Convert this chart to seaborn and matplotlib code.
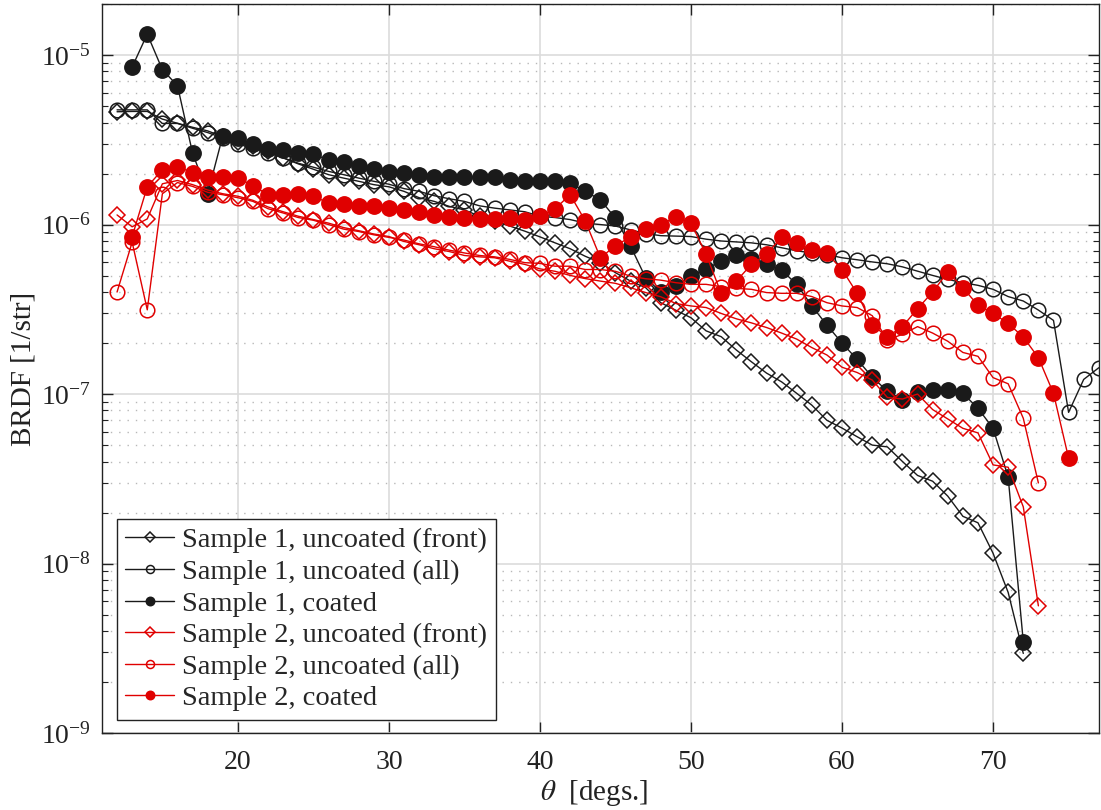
import numpy as np
import pandas as pd
import seaborn as sns
import matplotlib
matplotlib.use("Agg")
from matplotlib import pyplot as plt
from matplotlib.ticker import FixedLocator, LogLocator, NullFormatter

# angles [deg] for every curve
theta_s1_front = list(range(12, 73))
theta_s1_all = list(range(12, 78))
theta_s1_coat = list(range(13, 73))
theta_s2_front = list(range(12, 74))
theta_s2_all = list(range(12, 74))
theta_s2_coat = list(range(13, 76))

# BRDF [1/str]
s1_front = [4.63e-6, 4.65e-6, 4.65e-6, 4.19e-6, 3.96e-6, 3.75e-6, 3.57e-6, 3.30e-6, 3.05e-6, 2.89e-6,
            2.70e-6, 2.47e-6, 2.28e-6, 2.12e-6, 1.97e-6, 1.88e-6, 1.80e-6, 1.72e-6, 1.67e-6, 1.57e-6,
            1.44e-6, 1.37e-6, 1.28e-6, 1.22e-6, 1.12e-6, 1.05e-6, 9.8e-7, 9.14e-7, 8.46e-7, 7.8e-7,
            7.2e-7, 6.5e-7, 5.96e-7, 5.2e-7, 4.64e-7, 4.24e-7, 3.46e-7, 3.12e-7, 2.82e-7, 2.36e-7,
            2.18e-7, 1.82e-7, 1.55e-7, 1.33e-7, 1.18e-7, 1.01e-7, 8.6e-8, 7.0e-8, 6.3e-8, 5.6e-8,
            5.0e-8, 4.88e-8, 4.0e-8, 3.31e-8, 3.06e-8, 2.5e-8, 1.9e-8, 1.74e-8, 1.15e-8, 6.75e-9,
            2.95e-9]
s1_all = [4.75e-6, 4.75e-6, 4.75e-6, 3.95e-6, 3.95e-6, 3.70e-6, 3.49e-6, 3.24e-6, 2.98e-6, 2.83e-6,
          2.65e-6, 2.48e-6, 2.30e-6, 2.18e-6, 2.06e-6, 1.97e-6, 1.88e-6, 1.80e-6, 1.73e-6, 1.63e-6,
          1.57e-6, 1.48e-6, 1.42e-6, 1.37e-6, 1.29e-6, 1.25e-6, 1.22e-6, 1.19e-6, 1.12e-6, 1.10e-6,
          1.07e-6, 1.02e-6, 1.00e-6, 9.8e-7, 9.3e-7, 8.85e-7, 8.6e-7, 8.55e-7, 8.5e-7, 8.2e-7,
          8.0e-7, 7.9e-7, 7.8e-7, 7.6e-7, 7.3e-7, 7.0e-7, 6.8e-7, 6.65e-7, 6.37e-7, 6.2e-7,
          6.02e-7, 5.87e-7, 5.63e-7, 5.31e-7, 5.01e-7, 4.75e-7, 4.54e-7, 4.38e-7, 4.15e-7, 3.76e-7,
          3.54e-7, 3.13e-7, 2.72e-7, 7.8e-8, 1.22e-7, 1.43e-7]
s1_coat = [8.5e-6, 1.33e-5, 8.2e-6, 6.6e-6, 2.64e-6, 1.52e-6, 3.34e-6, 3.24e-6, 2.99e-6, 2.79e-6,
           2.74e-6, 2.66e-6, 2.60e-6, 2.41e-6, 2.33e-6, 2.22e-6, 2.13e-6, 2.04e-6, 2.01e-6, 1.95e-6,
           1.92e-6, 1.91e-6, 1.92e-6, 1.90e-6, 1.90e-6, 1.84e-6, 1.80e-6, 1.80e-6, 1.80e-6, 1.76e-6,
           1.57e-6, 1.40e-6, 1.09e-6, 7.45e-7, 4.85e-7, 4.0e-7, 4.34e-7, 5.0e-7, 5.48e-7, 6.08e-7,
           6.57e-7, 6.23e-7, 5.82e-7, 5.38e-7, 4.44e-7, 3.31e-7, 2.55e-7, 2.0e-7, 1.6e-7, 1.26e-7,
           1.04e-7, 9.25e-8, 1.03e-7, 1.05e-7, 1.06e-7, 1.01e-7, 8.24e-8, 6.28e-8, 3.23e-8, 3.46e-9]
s2_front = [1.14e-6, 9.7e-7, 1.08e-6, 1.74e-6, 1.82e-6, 1.72e-6, 1.60e-6, 1.52e-6, 1.47e-6, 1.39e-6,
            1.27e-6, 1.19e-6, 1.12e-6, 1.07e-6, 1.02e-6, 9.6e-7, 9.2e-7, 8.8e-7, 8.5e-7, 7.95e-7,
            7.6e-7, 7.2e-7, 6.93e-7, 6.57e-7, 6.45e-7, 6.37e-7, 6.08e-7, 5.82e-7, 5.48e-7, 5.3e-7,
            5.01e-7, 4.8e-7, 4.64e-7, 4.5e-7, 4.24e-7, 3.97e-7, 3.75e-7, 3.42e-7, 3.31e-7, 3.24e-7,
            2.99e-7, 2.78e-7, 2.63e-7, 2.47e-7, 2.29e-7, 2.11e-7, 1.88e-7, 1.70e-7, 1.44e-7, 1.34e-7,
            1.21e-7, 9.55e-8, 9.35e-8, 1.0e-7, 8.1e-8, 7.13e-8, 6.28e-8, 5.9e-8, 3.82e-8, 3.7e-8,
            2.16e-8, 5.63e-9]
s2_all = [4.0e-7, 7.87e-7, 3.14e-7, 1.52e-6, 1.77e-6, 1.68e-6, 1.55e-6, 1.50e-6, 1.44e-6, 1.37e-6,
          1.24e-6, 1.17e-6, 1.10e-6, 1.06e-6, 1.00e-6, 9.4e-7, 9.1e-7, 8.7e-7, 8.4e-7, 8.1e-7,
          7.7e-7, 7.4e-7, 7.06e-7, 6.8e-7, 6.57e-7, 6.45e-7, 6.23e-7, 5.96e-7, 5.9e-7, 5.68e-7,
          5.68e-7, 5.43e-7, 5.43e-7, 5.3e-7, 4.96e-7, 4.79e-7, 4.7e-7, 4.54e-7, 4.44e-7, 4.44e-7,
          4.3e-7, 4.2e-7, 4.15e-7, 3.97e-7, 3.93e-7, 3.93e-7, 3.76e-7, 3.46e-7, 3.31e-7, 3.24e-7,
          2.9e-7, 2.09e-7, 2.25e-7, 2.5e-7, 2.29e-7, 2.05e-7, 1.76e-7, 1.67e-7, 1.25e-7, 1.15e-7,
          7.2e-8, 2.99e-8]
s2_coat = [8.5e-7, 1.67e-6, 2.11e-6, 2.20e-6, 2.02e-6, 1.92e-6, 1.92e-6, 1.88e-6, 1.70e-6, 1.50e-6,
           1.50e-6, 1.52e-6, 1.47e-6, 1.34e-6, 1.33e-6, 1.29e-6, 1.28e-6, 1.25e-6, 1.22e-6, 1.18e-6,
           1.14e-6, 1.11e-6, 1.09e-6, 1.08e-6, 1.08e-6, 1.09e-6, 1.07e-6, 1.12e-6, 1.24e-6, 1.50e-6,
           1.05e-6, 6.37e-7, 7.5e-7, 8.46e-7, 9.4e-7, 1.0e-6, 1.11e-6, 1.02e-6, 6.67e-7, 3.93e-7,
           4.64e-7, 5.82e-7, 6.67e-7, 8.46e-7, 7.8e-7, 7.06e-7, 6.75e-7, 5.43e-7, 3.93e-7, 2.56e-7,
           2.18e-7, 2.5e-7, 3.19e-7, 4.0e-7, 5.25e-7, 4.24e-7, 3.34e-7, 2.99e-7, 2.61e-7, 2.17e-7,
           1.64e-7, 1.01e-7, 4.19e-8]

labels = ["Sample 1, uncoated (front)", "Sample 1, uncoated (all)", "Sample 1, coated",
          "Sample 2, uncoated (front)", "Sample 2, uncoated (all)", "Sample 2, coated"]

x_ticks = [20, 30, 40, 50, 60, 70]
y_ticks = [1e-9, 1e-8, 1e-7, 1e-6, 1e-5]

RED = "#e00000"

sns.set_theme(style="ticks")
plt.rcParams["font.family"] = ["Liberation Serif", "DejaVu Serif"]
plt.rcParams["mathtext.fontset"] = "stix"

fig, ax = plt.subplots(figsize=(11.01, 8.10), dpi=100)
fig.subplots_adjust(left=0.0926, right=0.998, bottom=0.095, top=0.995)

series = [
    (theta_s1_front, s1_front, "k", "D", 8.5, "none"),
    (theta_s1_all, s1_all, "k", "o", 10.5, "none"),
    (theta_s1_coat, s1_coat, "k", "o", 11, "k"),
    (theta_s2_front, s2_front, RED, "D", 8.5, "none"),
    (theta_s2_all, s2_all, RED, "o", 10.5, "none"),
    (theta_s2_coat, s2_coat, RED, "o", 11, RED),
]

for (th, vals, col, mk, ms, fc), lab in zip(series, labels):
    df = pd.DataFrame({"theta": th, "brdf": vals})
    sns.lineplot(data=df, x="theta", y="brdf", ax=ax, color=col, lw=1.0,
                 marker=mk, markersize=ms, markerfacecolor=fc,
                 markeredgecolor=col, markeredgewidth=1.1, label=lab)

ax.set_yscale("log")
ax.set_xlim(11, 77)
ax.set_ylim(1e-9, 2e-5)
ax.set_xticks(x_ticks)
ax.yaxis.set_major_locator(FixedLocator(y_ticks))
ax.yaxis.set_minor_locator(LogLocator(base=10, subs=np.arange(2, 10), numticks=20))
ax.yaxis.set_minor_formatter(NullFormatter())

ax.set_axisbelow(True)
ax.grid(which="major", color="#dcdcdc", lw=1.2, ls="-")
ax.grid(which="minor", axis="y", color="#b8b8b8", lw=1.0, ls=(0, (1, 5)))

ax.tick_params(which="both", direction="in", top=True, right=True, colors="#222222",
               labelsize=20, labelcolor="#222222")
ax.tick_params(which="major", length=8, width=1.0)
ax.tick_params(which="minor", length=4, width=0.8)
ax.tick_params(axis="x", pad=12)
ax.tick_params(axis="y", pad=8)
for sp in ax.spines.values():
    sp.set_color("#222222")
    sp.set_linewidth(1.0)

ax.set_xlabel(r"$\theta$  [degs.]", fontsize=21, color="#222222")
ax.set_ylabel("BRDF [1/str]", fontsize=21, color="#222222")
ax.xaxis.set_label_coords(0.494, -0.062)
ax.yaxis.set_label_coords(-0.066, 0.5)

leg = ax.legend(loc="lower left", bbox_to_anchor=(0.015, 0.018), borderaxespad=0,
                fancybox=False, edgecolor="#222222", framealpha=1, fontsize=20.5,
                markerscale=0.55, handlelength=1.7, handletextpad=0.3,
                labelspacing=0.2, borderpad=0.3)
leg.get_frame().set_linewidth(1.0)

fig.savefig("out.png", dpi=100)
